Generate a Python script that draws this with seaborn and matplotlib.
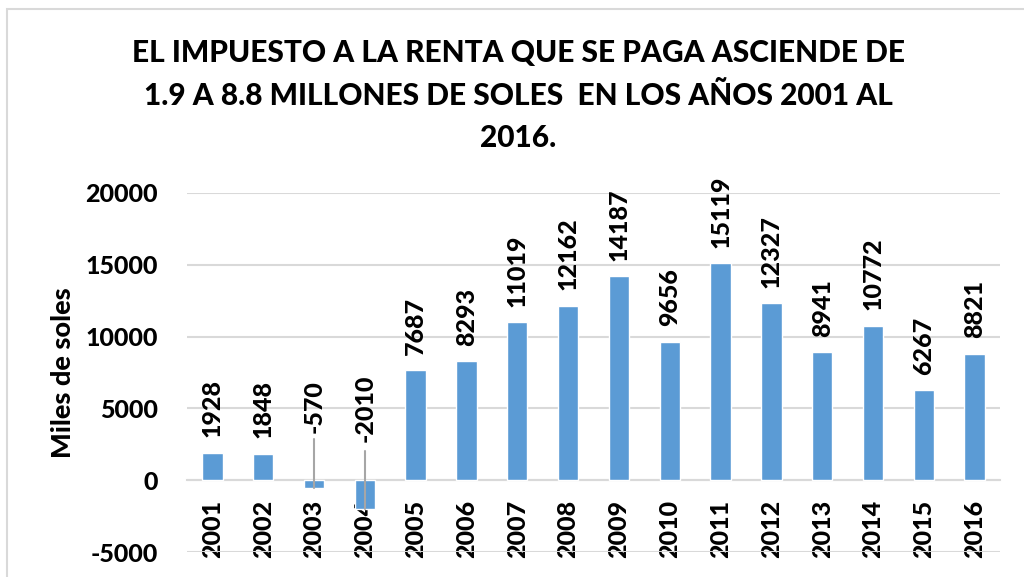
import matplotlib
matplotlib.use("Agg")
import matplotlib.pyplot as plt
import matplotlib.patches as patches
import seaborn as sns
import pandas as pd

# Datos: impuesto a la renta (miles de soles)
years = ["2001", "2002", "2003", "2004", "2005", "2006", "2007", "2008",
         "2009", "2010", "2011", "2012", "2013", "2014", "2015", "2016"]
values = [1928, 1848, -570, -2010, 7687, 8293, 11019, 12162,
          14187, 9656, 15119, 12327, 8941, 10772, 6267, 8821]

title = ("EL IMPUESTO A LA RENTA QUE SE PAGA ASCIENDE DE\n"
         "1.9 A 8.8 MILLONES DE SOLES  EN LOS AÑOS 2001 AL\n"
         "2016.")
y_label = "Miles de soles"
y_ticks = [-5000, 0, 5000, 10000, 15000, 20000]

# posiciones de las etiquetas de los valores negativos (arrastradas hacia arriba)
neg_label_y = {"2003": 3270, "2004": 2650}
neg_line_top = {"2003": 2900, "2004": 2000}

bar_color = "#5B9BD5"
grid_color = "#D9D9D9"
font = ["Lato", "DejaVu Sans"]
W = "black"

sns.set_theme(style="white")
plt.rcParams["font.family"] = font
plt.rcParams["font.weight"] = W
plt.rcParams["axes.unicode_minus"] = False

df = pd.DataFrame({"year": years, "value": values})

fig = plt.figure(figsize=(10.24, 5.77), dpi=100)
ax = fig.add_axes([187 / 1024, 1 - 552 / 577, 813 / 1024, 359 / 577])

sns.barplot(data=df, x="year", y="value", color=bar_color, saturation=1,
            width=0.4, ax=ax, zorder=3)

ax.set_ylim(-5000, 20000)
ax.set_xlim(-0.5, len(years) - 0.5)
ax.set_yticks(y_ticks)
ax.yaxis.grid(True, color=grid_color, lw=1.5, zorder=0)
ax.set_axisbelow(True)
for s in ["left", "right", "top"]:
    ax.spines[s].set_visible(False)
ax.spines["bottom"].set_position(("data", 0))
ax.spines["bottom"].set_color(grid_color)
ax.spines["bottom"].set_linewidth(1.5)

ax.tick_params(axis="y", length=0, pad=21, labelsize=18, labelcolor="black")
ax.tick_params(axis="x", length=0, pad=14, labelsize=18, labelcolor="black",
               rotation=90)
for t in ax.get_xticklabels():
    t.set_fontweight(W)
    t.set_va("top")
for t in ax.get_yticklabels():
    t.set_fontweight(W)

ax.set_xlabel("")
ax.set_ylabel(y_label, fontsize=19.5, fontweight=W, color="black")
ax.yaxis.set_label_coords(-0.138, 0.5)

# etiquetas de datos
for i, (yr, v) in enumerate(zip(years, values)):
    if v >= 0:
        ax.annotate(str(v), xy=(i, v), xytext=(0, 11), textcoords="offset points",
                    rotation=90, ha="center", va="bottom", fontsize=18,
                    fontweight=W, color="black", zorder=5)
    else:
        ax.text(i, neg_label_y[yr], str(v), rotation=90, ha="center",
                va="bottom", fontsize=18, fontweight=W, color="black",
                zorder=5)
        ax.plot([i, i], [v, neg_line_top[yr]], color="#A6A6A6", lw=1.5,
                zorder=4)

fig.text(0.506, 0.834, title, ha="center", va="center", fontsize=21.5,
         fontweight=W, linespacing=1.63, color="black")

# borde del gráfico
fig.add_artist(patches.Rectangle((7 / 1024, -0.05), 1.2, 1 - 9 / 577 + 0.05,
                                 transform=fig.transFigure, fill=False,
                                 edgecolor=grid_color, lw=1.5))

fig.savefig("out.png", dpi=100)
